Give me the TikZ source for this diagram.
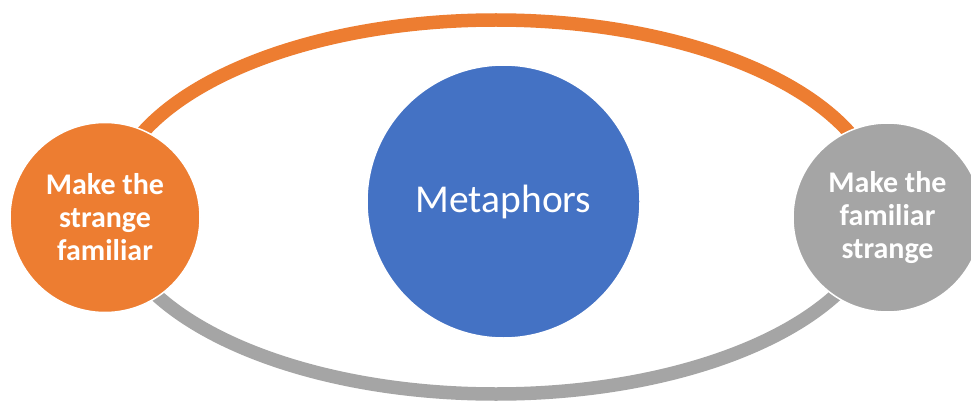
\documentclass[tikz,border=0pt]{standalone}
\usepackage{fontspec}
\setmainfont{Carlito}
\definecolor{offorange}{HTML}{ED7D31}
\definecolor{offblue}{HTML}{4472C4}
\definecolor{offgray}{HTML}{A5A5A5}
\begin{document}
\begin{tikzpicture}[x=1pt,y=-1pt,
  ring/.style={line width=13.5pt},
  bubble/.style={circle, draw=white, line width=1.5pt, text=white, align=center, inner sep=0pt},
  sidetext/.style={font=\fontsize{30}{33}\selectfont\bfseries},
  midtext/.style={font=\fontsize{39.5}{44}\selectfont}]
\useasboundingbox (0,0) rectangle (971,401);
\fill[white] (0,0) rectangle (971,401);
\coordinate (ec) at (496,207);
\draw[ring, offorange] (ec) ++(-385,0) arc[start angle=180, end angle=360, x radius=385, y radius=187];
\draw[ring, offgray] (ec) ++(385,0) arc[start angle=0, end angle=180, x radius=385, y radius=187];
\node[bubble, fill=offblue, minimum size=273pt, midtext] (meta) at (503.5,201.5) {Metaphors};
\node[bubble, fill=offorange, minimum size=190pt, sidetext] (left) at (105,217.5) {Make the\\strange\\familiar};
\node[bubble, fill=offgray, minimum size=189pt, sidetext] (right) at (887.5,217.5) {Make the\\familiar\\strange};
\end{tikzpicture}
\end{document}
